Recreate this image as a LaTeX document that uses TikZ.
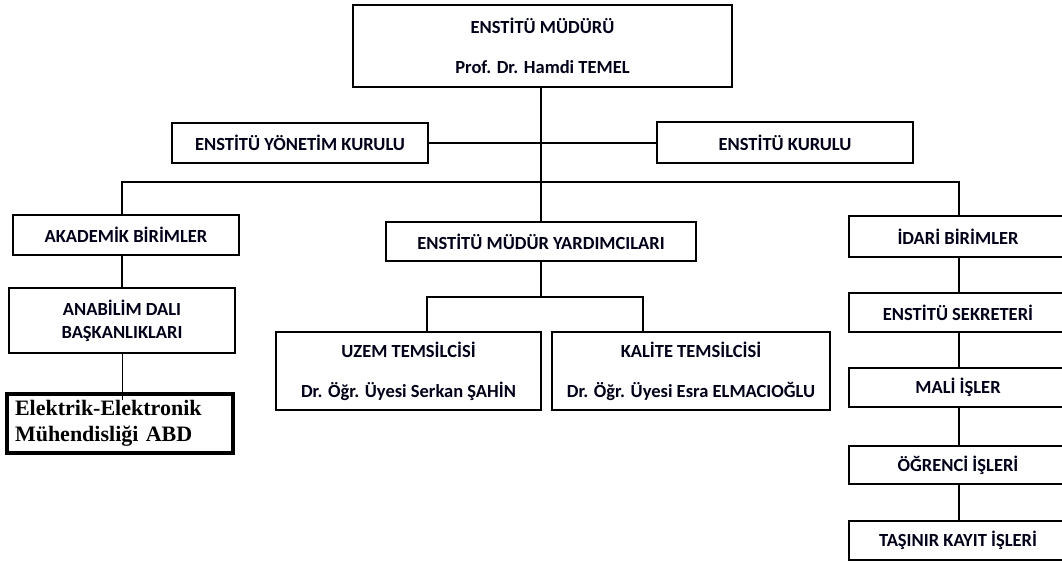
\documentclass[tikz,border=0pt]{standalone}
\usepackage{fontspec}
\setmainfont{Carlito}
\newfontfamily\tnr{Liberation Serif}
\begin{document}
\begin{tikzpicture}[x=1pt,y=-1pt,
  box/.style={draw=black,line width=2pt,fill=white,inner sep=0pt,align=center,
    font=\fontsize{18.5}{22}\selectfont\bfseries,text=black!90!blue},
  conn/.style={draw=black,line width=2pt},
  thinconn/.style={draw=black,line width=0.9pt}]
\useasboundingbox (0,0) rectangle (1062,562);
\clip (0,0) rectangle (1062,562);
\node[box,minimum width=379pt,minimum height=82pt] (top) at (542.5,46) {ENSTİTÜ MÜDÜRÜ\\[18pt]Prof. Dr. Hamdi TEMEL};
\node[box,minimum width=256pt,minimum height=40pt] (yon) at (300,143) {ENSTİTÜ YÖNETİM KURULU};
\node[box,minimum width=256pt,minimum height=41pt] (kur) at (785,142.5) {ENSTİTÜ KURULU};
\node[box,minimum width=226pt,minimum height=40pt] (aka) at (126,235) {AKADEMİK BİRİMLER};
\node[box,minimum width=310pt,minimum height=39pt] (myrd) at (541,241.5) {ENSTİTÜ MÜDÜR YARDIMCILARI};
\node[box,minimum width=218pt,minimum height=41pt] (idari) at (958,236.5) {İDARİ BİRİMLER};
\node[box,minimum width=226pt,minimum height=65pt] (ana) at (122,320.5) {ANABİLİM DALI\\[1pt]BAŞKANLIKLARI};
\node[box,line width=3.5pt,minimum width=226pt,minimum height=59pt,text width=210pt,inner xsep=8pt,align=left,
  font=\tnr\fontsize{22}{26}\selectfont\bfseries,text=black] (elk) at (120,423.5) {Elektrik-Elektronik\\Mühendisliği ABD};
\node[box,minimum width=265pt,minimum height=78pt] (uzem) at (408.5,371) {UZEM TEMSİLCİSİ\\[18pt]Dr. Öğr. Üyesi Serkan ŞAHİN};
\node[box,minimum width=278pt,minimum height=78pt] (kal) at (691,371) {KALİTE TEMSİLCİSİ\\[18pt]Dr. Öğr. Üyesi Esra ELMACIOĞLU};
\node[box,minimum width=218pt,minimum height=39pt] (sek) at (958,312.5) {ENSTİTÜ SEKRETERİ};
\node[box,minimum width=218pt,minimum height=39pt] (mali) at (958,387.5) {MALİ İŞLER};
\node[box,minimum width=218pt,minimum height=38pt] (ogr) at (958,465) {ÖĞRENCİ İŞLERİ};
\node[box,minimum width=218pt,minimum height=39pt] (tas) at (958,540.5) {TAŞINIR KAYIT İŞLERİ};
\coordinate (bus) at (541,182);
\coordinate (busL) at (122,182);
\coordinate (busR) at (959,182);
\coordinate (mbus) at (541,297);
\coordinate (mL) at (427,297);
\coordinate (mR) at (643,297);
\draw[conn] (myrd.north |- top.south) -- (myrd.north);
\draw[conn] (yon.east) -- (yon.east -| myrd.north);
\draw[conn] (kur.west) -- (kur.west -| myrd.north);
\draw[conn] (busL |- aka.north) -- (busL) -- (busR) -- (busR |- idari.north);
\draw[conn] (ana.north |- aka.south) -- (ana.north);
\draw[thinconn] (ana.south) -- ([yshift=-8pt]ana.south |- elk.north);
\draw[conn] (myrd.south) -- (mbus);
\draw[conn] (mL |- uzem.north) -- (mL) -- (mR) -- (mR |- kal.north);
\draw[conn] (busR |- idari.south) -- (busR |- sek.north);
\draw[conn] (busR |- sek.south) -- (busR |- mali.north);
\draw[conn] (busR |- mali.south) -- (busR |- ogr.north);
\draw[conn] (busR |- ogr.south) -- (busR |- tas.north);
\end{tikzpicture}
\end{document}
